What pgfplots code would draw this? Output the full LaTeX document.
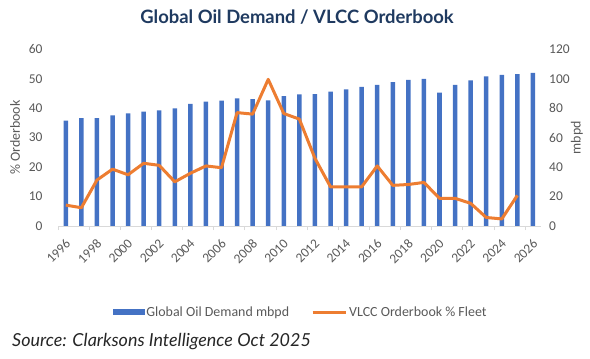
\documentclass[border=0pt]{standalone}
\usepackage{pgfplots}
\pgfplotsset{compat=1.18}
\usepackage{fontspec}
\setmainfont{Carlito}
\newfontfamily\latofont{Lato}
\definecolor{barblue}{HTML}{4472C4}
\definecolor{lineorange}{HTML}{ED7D31}
\definecolor{txtgray}{HTML}{595959}
\definecolor{axgray}{HTML}{D9D9D9}
\definecolor{titleblue}{HTML}{1F3A60}
\begin{document}
\begin{tikzpicture}[x=1bp,y=1bp]
\useasboundingbox (0,0) rectangle (590,-358);
\pgfplotsset{
  common/.style={
    scale only axis, width=482.7bp, height=176.7bp,
    at={(58bp,-226bp)}, anchor=south west,
    xmin=-0.5, xmax=30.5, ymin=0,
    /pgf/number format/assume math mode=true,
    tick label style={font=\fontsize{13.5}{15}\selectfont, text=txtgray},
    label style={font=\fontsize{14}{16}\selectfont, text=txtgray},
  }
}
\begin{axis}[common, ymax=120,
  axis y line*=right, axis x line=none,
  y axis line style={draw=none},
  ytick={0,20,...,120}, major tick length=0pt,
  yticklabel style={xshift=5bp},
  ylabel={mbpd},
  ylabel style={at={(axis description cs:1.075,0.5)}, anchor=center},
  xtick=\empty,
]
\addplot[ybar, bar width=4.5bp, bar shift=0pt, fill=barblue, draw=none] coordinates {
(0,71.5) (1,73.3) (2,73.3) (3,75.1) (4,76.5) (5,77.6) (6,78.6) (7,79.9)
(8,83.0) (9,84.4) (10,85.1) (11,86.7) (12,86.2) (13,85.3) (14,88.2) (15,89.4)
(16,89.6) (17,91.2) (18,92.8) (19,94.5) (20,95.9) (21,97.7) (22,99.3) (23,100.0)
(24,90.5) (25,95.9) (26,98.9) (27,101.6) (28,102.7) (29,103.2) (30,104.0)};
\end{axis}
\begin{axis}[common, ymax=60,
  axis y line*=left, axis x line*=bottom,
  y axis line style={draw=none},
  x axis line style={draw=axgray, line width=0.8bp},
  ytick={0,10,...,60},
  xtick={0,2,...,30},
  xticklabels={1996,1998,2000,2002,2004,2006,2008,2010,2012,2014,2016,2018,2020,2022,2024,2026},
  xticklabel style={xshift=-1bp, yshift=-12bp, rotate=45, anchor=north east, inner sep=0bp},
  major tick length=0pt,
  extra x ticks={-0.5,1.5,...,29.5},
  extra x tick labels={},
  extra x tick style={major tick length=4bp, tick style={draw=axgray, line width=0.8bp}, tick pos=bottom, xtick align=outside},
  yticklabel style={xshift=-12bp},
  ylabel={\% Orderbook},
  ylabel style={at={(axis description cs:-0.089,0.5)}, anchor=center},
  legend columns=2,
  legend style={at={(axis description cs:0.503,-0.487)}, anchor=center, draw=none, fill=none,
    font=\fontsize{14}{16}\selectfont, text=txtgray,
    /tikz/every even column/.append style={column sep=20bp}},
]
\addlegendimage{legend image code/.code={\fill[barblue] (0bp,-2.6bp) rectangle (31bp,2.6bp);}}
\addlegendentry{Global Oil Demand mbpd}
\addplot[lineorange, line width=3bp, line join=round,
  legend image code/.code={\draw[lineorange, line width=3bp] (0bp,0bp) -- (33bp,0bp);}] coordinates {
(0,7.1) (1,6.2) (2,15.6) (3,19.3) (4,17.4) (5,21.3) (6,20.6) (7,15.0)
(8,17.9) (9,20.4) (10,19.8) (11,38.5) (12,38.0) (13,49.8) (14,38.2) (15,36.3)
(16,23.0) (17,13.3) (18,13.3) (19,13.3) (20,20.4) (21,13.8) (22,14.1) (23,14.8)
(24,9.4) (25,9.4) (26,7.7) (27,2.9) (28,2.4) (29,10.4)};
\addlegendentry{VLCC Orderbook \% Fleet}
\end{axis}
\node[font=\latofont\bfseries\fontsize{18.5}{20}\selectfont, text=titleblue] at (297,-17) {Global Oil Demand / VLCC Orderbook};
\node[anchor=west, font=\latofont\itshape\fontsize{18}{19}\selectfont, text=black!85, inner sep=0pt] at (12,-342) {Source: Clarksons Intelligence Oct 2025};
\end{tikzpicture}
\end{document}
